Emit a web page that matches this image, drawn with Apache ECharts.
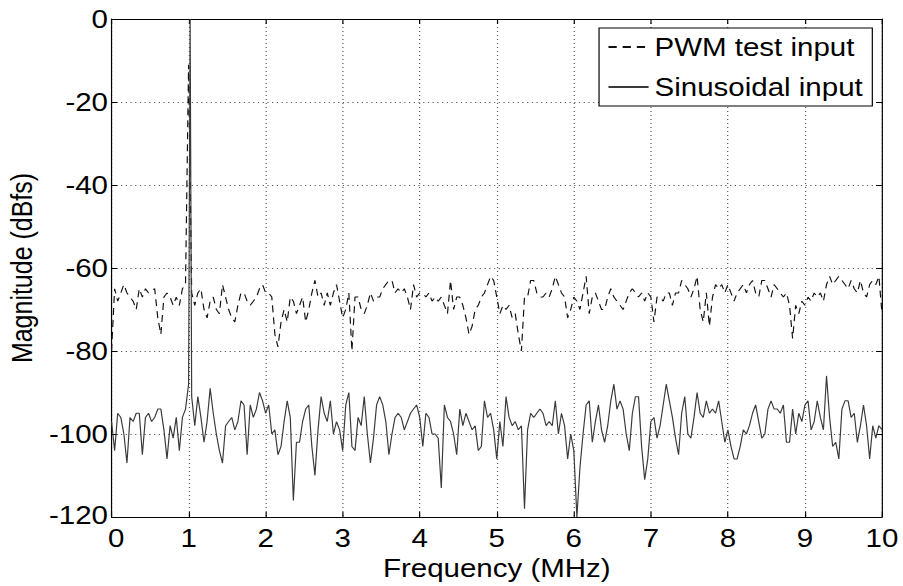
<!DOCTYPE html>
<html>
<head>
<meta charset="utf-8">
<title>Magnitude spectrum</title>
<script src="https://cdn.jsdelivr.net/npm/echarts@6.0.0/dist/echarts.min.js"></script>
<style>
  html, body { margin: 0; padding: 0; background: #fff; overflow: hidden; }
  /* the source figure is stretched sideways, so the chart is drawn narrower and scaled in x */
  #chart { width: 765px; height: 586px; transform: scaleX(1.18039); transform-origin: 0 0; }
</style>
</head>
<body>
<div id="chart"></div>
<script>
// x grid: 0 .. 10 MHz in 0.04 MHz steps (251 points)
const freq = [];
for (let i = 0; i <= 250; i++) freq.push(Math.round(i * 4) / 100);

// PWM test input (dBfs), one value per freq
const pwm = [
  -80, -65, -68, -66, -64, -66, -67, -68, -70, -65, -67, -65, -66, -65.5, -65, -72, -76, -67, -66, -67, -69, -67, -69, -65, -64,
  -11,
  -66, -69, -66, -65, -70, -72, -68, -67, -70, -71, -64, -67, -70, -72, -73, -69, -66, -66, -68, -69, -68, -67, -65, -64, -66,
  -66, -67, -76, -79, -73, -70, -73, -67, -68, -71, -69, -67, -73, -70, -66, -63, -67, -66, -69, -66, -69, -66, -64, -68, -72,
  -70, -66, -80, -67, -67, -70, -71, -69, -66, -68, -67, -67, -65, -64, -63, -63, -66, -65, -66, -65, -67, -70, -64, -67, -66,
  -66, -67, -66, -68, -67, -68, -67, -69, -71, -63, -70, -67, -67, -69, -72, -76, -74, -70, -69, -67, -66, -64, -62, -63, -67,
  -71, -69, -70, -69, -72, -71, -76, -80, -67, -67, -63, -63, -66, -67, -67, -66, -67, -65, -62, -64, -66, -67, -72, -70, -67,
  -68, -70, -66, -62, -71, -67, -66, -68, -70, -70, -67, -65, -67, -68, -69, -70, -68, -66, -65, -66, -67, -66, -68, -66, -67,
  -73, -67, -67, -68, -66, -66, -69, -66, -66, -63, -64, -65, -67, -65, -62, -70, -73, -66, -74, -67, -64, -65, -64, -66, -64,
  -66, -68, -66, -65, -64, -66, -64, -63, -66, -67, -63, -63, -65, -67, -64, -65, -66, -67, -66, -69, -77, -69, -71, -68, -69,
  -67, -68, -66, -67, -66, -68, -64, -62, -64, -63, -62, -63, -64, -65, -63, -65, -66, -63, -66, -67, -64, -63, -64, -62, -71
];

// Sinusoidal input (dBfs), one value per freq
const sine = [
  -97, -104, -95, -96, -100, -107, -96, -97, -95, -95, -105, -96, -95, -97, -96, -94, -94, -99, -106, -98, -101, -96, -104, -96, -94,
  -88,
  -91, -98, -91, -96, -102, -97, -89, -95, -100, -104, -107, -98, -97, -96, -99, -97, -92, -93, -105, -93, -96, -94, -90, -92, -95,
  -93, -100, -99, -105, -103, -97, -92, -96, -116, -102, -102, -97, -94, -93, -103, -110, -99, -91, -95, -97, -92, -100, -97, -99, -104,
  -93, -90, -103, -104, -96, -98, -91, -100, -107, -101, -93, -91, -93, -97, -105, -100, -96, -95, -96, -99, -97, -95, -94, -93, -96,
  -103, -95, -96, -100, -100, -101, -113, -93, -96, -97, -100, -105, -94, -98, -95, -97, -99, -98, -104, -103, -92, -96, -95, -99, -106,
  -97, -103, -91, -96, -98, -97, -99, -98, -118, -99, -95, -96, -95, -94, -95, -98, -97, -98, -92, -100, -95, -98, -106, -100, -104,
  -120, -108, -100, -93, -92, -102, -97, -93, -99, -102, -98, -92, -88, -94, -92, -94, -100, -104, -95, -91, -91, -103, -111, -106, -97,
  -96, -101, -98, -93, -88, -92, -96, -101, -105, -95, -91, -100, -101, -96, -90, -95, -96, -92, -95, -94, -95, -92, -97, -102, -99,
  -103, -106, -106, -103, -99, -100, -98, -95, -93, -97, -101, -100, -94, -92, -94, -94, -95, -93, -102, -102, -94, -100, -95, -97, -93,
  -92, -99, -97, -92, -96, -99, -86, -96, -103, -102, -106, -94, -92, -92, -96, -95, -102, -98, -93, -98, -106, -98, -101, -98, -99
];

// the 1 MHz tone peak of the sinusoidal input
const sineSpikeFreq = [1.02];
const sineSpike = [0];

// axis ticks
const xTicks = { min: 0, max: 10, step: 1 };
const yTicks = { min: -120, max: 0, step: 20 };

const font = "'Liberation Sans', Arial, Helvetica, sans-serif";

const pwmData = freq.map((f, i) => [f, pwm[i]]);
const sineData = freq.map((f, i) => [f, sine[i]])
  .concat(sineSpikeFreq.map((f, i) => [f, sineSpike[i]]))
  .sort((a, b) => a[0] - b[0]);

const tick = { show: true, inside: true, length: 5, lineStyle: { color: '#000', width: 1 } };
const line = { show: true, onZero: false, lineStyle: { color: '#000', width: 1 } };
const dotted = { show: true, lineStyle: { color: '#555', width: 1, type: [1, 3] } };
const labelText = { fontSize: 25, color: '#000', fontFamily: font };

const option = {
  animation: false,
  backgroundColor: '#fff',
  // fixed plot box, labels are allowed to sit outside it
  grid: { left: 94.5, right: 17.8, top: 19, bottom: 69, containLabel: false, outerBoundsMode: 'none' },
  legend: {
    data: ['PWM test input', 'Sinusoidal input'],
    orient: 'vertical',
    left: 507.5,
    top: 28,
    itemWidth: 34,
    itemHeight: 14,
    itemGap: 14,
    padding: [6, 8, 6, 7],
    borderColor: '#000',
    borderWidth: 1,
    borderRadius: 0,
    backgroundColor: '#fff',
    selectedMode: false,
    // hide the marker dot, keep only the line sample
    itemStyle: { color: 'rgba(0,0,0,0)', borderColor: 'rgba(0,0,0,0)', borderWidth: 0 },
    textStyle: Object.assign({ lineHeight: 26 }, labelText)
  },
  xAxis: [
    {
      type: 'value',
      min: xTicks.min, max: xTicks.max, interval: xTicks.step,
      name: 'Frequency (MHz)',
      nameLocation: 'middle',
      nameGap: 36,
      nameTextStyle: labelText,
      axisLine: line,
      axisTick: tick,
      axisLabel: Object.assign({
        margin: 9,
        // nudge the corner "0" right so it clears "-120"
        formatter: v => (v === xTicks.min ? '{first|' + v + '}' : '' + v),
        rich: { first: Object.assign({ padding: [0, 0, 0, 8] }, labelText) }
      }, labelText),
      splitLine: dotted
    },
    {
      type: 'value', position: 'top',
      min: xTicks.min, max: xTicks.max, interval: xTicks.step,
      axisLine: line, axisTick: tick,
      axisLabel: { show: false }, splitLine: { show: false }
    }
  ],
  yAxis: [
    {
      type: 'value',
      min: yTicks.min, max: yTicks.max, interval: yTicks.step,
      name: 'Magnitude (dBfs)',
      nameLocation: 'middle',
      nameGap: 44,
      nameTextStyle: labelText,
      axisLine: line,
      axisTick: tick,
      axisLabel: Object.assign({
        margin: 3,
        formatter: v => (v === yTicks.min ? '{last|' + v + '}' : '' + v),
        rich: { last: Object.assign({ padding: [0, 0, 4, 0] }, labelText) }
      }, labelText),
      splitLine: dotted
    },
    {
      type: 'value', position: 'right',
      min: yTicks.min, max: yTicks.max, interval: yTicks.step,
      axisLine: line, axisTick: tick,
      axisLabel: { show: false }, splitLine: { show: false }
    }
  ],
  series: [
    {
      name: 'PWM test input',
      type: 'line',
      data: pwmData,
      symbol: 'none',
      lineStyle: { color: '#111', width: 1, type: [7, 5] },
      itemStyle: { color: '#111' }
    },
    {
      name: 'Sinusoidal input',
      type: 'line',
      data: sineData,
      symbol: 'none',
      lineStyle: { color: '#3a3a3a', width: 1 },
      itemStyle: { color: '#3a3a3a' }
    }
  ]
};

echarts.init(document.getElementById('chart'), null, { renderer: 'svg' }).setOption(option);
</script>
</body>
</html>
